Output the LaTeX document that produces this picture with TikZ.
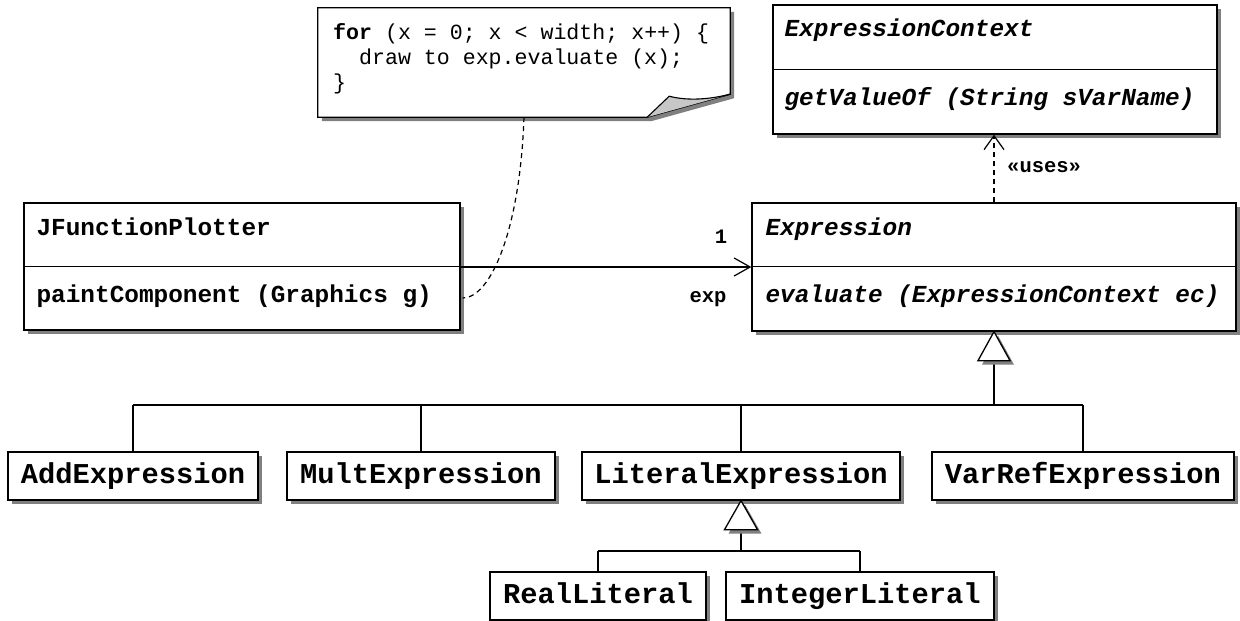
\documentclass[tikz,border=0pt]{standalone}
\usepackage{fontspec}
\setmonofont{Liberation Mono}
\usetikzlibrary{shadows,arrows.meta,calc}
\newcommand\clsfont{\ttfamily\bfseries\fontsize{24.4}{29}\selectfont}
\newcommand\subfont{\ttfamily\bfseries\fontsize{28.75}{34}\selectfont}
\newcommand\notefont{\ttfamily\fontsize{21.6}{25}\selectfont}
\newcommand\lblfont{\ttfamily\bfseries\fontsize{20.5}{24}\selectfont}
\tikzset{
  shad/.style={drop shadow={shadow xshift=4pt, shadow yshift=-4pt, fill=black!50, opacity=1}},
  box/.style={draw, line width=1.3pt, fill=white, inner sep=0pt, shad},
  clsbox/.style={box},
  subbox/.style={box, minimum height=48pt, text height=20pt, text depth=5pt, font=\subfont},
  cls/.style={anchor=base west, inner sep=0pt, font=\clsfont},
  ln/.style={line width=1.3pt},
  trunk/.style={line width=1.9pt},
  gentri/.style={line width=1.3pt, fill=white, shad},
  assoc/.style={line width=1.2pt, -{Straight Barb[length=16pt,width=18pt,line width=1.2pt]}},
  usesarrow/.style={line width=1.2pt, dash pattern=on 5pt off 4pt, -{Straight Barb[length=14pt,width=20pt,line width=1.2pt]}},
  notelink/.style={line width=1.2pt, dash pattern=on 5pt off 4pt},
  lbl/.style={inner sep=0pt, font=\lblfont},
  notetxt/.style={anchor=base west, inner sep=0pt, font=\notefont}
}
\begin{document}
\begin{tikzpicture}[x=1pt,y=-1pt]
\useasboundingbox (0,0) rectangle (1240,621);

% ---------- note ----------
\node[inner sep=0pt, minimum width=412pt, minimum height=109pt] (note) at (524,62.5) {};
\draw[ln, fill=white, shad] (note.north west) -- (note.north east) -- ($(note.south east)+(0,-23)$)
  -- ($(note.south east)+(-83,0)$) -- (note.south west) -- cycle;
\fill[black!22] ($(note.south east)+(-83,0)$) -- ($(note.south east)+(-61,-21)$)
  .. controls ($(note.south east)+(-42,-16)$) and ($(note.south east)+(-20,-18)$) .. ($(note.south east)+(0,-23)$) -- cycle;
\draw[line width=1.1pt] ($(note.south east)+(-83,0)$) -- ($(note.south east)+(-61,-21)$)
  .. controls ($(note.south east)+(-42,-16)$) and ($(note.south east)+(-20,-18)$) .. ($(note.south east)+(0,-23)$);
\node[notetxt] (n1) at (333,39) {\textbf{for} (x = 0; x < width; x++) \{};
\node[notetxt] (n2) at (333,64) {\phantom{xx}draw to exp.evaluate (x);};
\node[notetxt] (n3) at (333,89) {\}};

% ---------- ExpressionContext ----------
\node[clsbox, minimum width=444pt, minimum height=129pt] (ctx) at (995,69.5) {};
\draw[ln] ($(ctx.north west)+(0,65)$) -- ($(ctx.north east)+(0,65)$);
\node[cls] (ctxT) at ($(ctx.north west)+(12,32)$) {\itshape ExpressionContext};
\node[cls] (ctxM) at ($(ctx.north west)+(12,101)$) {\itshape getValueOf (String sVarName)};

% ---------- JFunctionPlotter ----------
\node[clsbox, minimum width=436pt, minimum height=127pt] (jfp) at (242,266.5) {};
\draw[ln] ($(jfp.north west)+(0,64)$) -- ($(jfp.north east)+(0,64)$);
\node[cls] (jfpT) at ($(jfp.north west)+(13,33)$) {JFunctionPlotter};
\node[cls] (jfpM) at ($(jfp.north west)+(13,100)$) {paintComponent (Graphics g)};

% ---------- Expression ----------
\node[clsbox, minimum width=484pt, minimum height=128pt] (expr) at (994,267) {};
\draw[ln] ($(expr.north west)+(0,64)$) -- ($(expr.north east)+(0,64)$);
\node[cls] (exprT) at ($(expr.north west)+(14,33)$) {\itshape Expression};
\node[cls] (exprM) at ($(expr.north west)+(14,100)$) {\itshape evaluate (ExpressionContext ec)};

% ---------- subclasses ----------
\node[subbox, minimum width=250pt] (add)  at (133,476)  {AddExpression};
\node[subbox, minimum width=268pt] (mult) at (421,476)  {MultExpression};
\node[subbox, minimum width=318pt] (lit)  at (741,476)  {LiteralExpression};
\node[subbox, minimum width=302pt] (var)  at (1083,476) {VarRefExpression};
\node[subbox, minimum width=216pt] (real) at (598,596)  {RealLiteral};
\node[subbox, minimum width=268pt] (int)  at (860,596)  {IntegerLiteral};

% ---------- association ----------
\draw[assoc] (jfp.east |- expr.west) -- (expr.west);
\node[lbl] (one) at (721,237) {1};
\node[lbl] (expl) at (708,299) {exp};

% ---------- uses ----------
\draw[usesarrow] (expr.north) -- (expr.north |- ctx.south);
\node[lbl, anchor=west] (uses) at (1007,167) {«uses»};

% ---------- note link ----------
\coordinate (nl) at ($(jfp.east)+(2,31.5)$);
\draw[notelink] (note.south) .. controls ($(note.south)+(-4,113)$) and ($(nl)+(28,0)$) .. (nl);

% ---------- generalization: Expression ----------
\coordinate (gbar) at (0,405);
\draw[trunk] ($(expr.south)+(0,29)$) -- (expr.south |- gbar);
\draw[ln] (add.north |- gbar) -- (var.north |- gbar);
\draw[trunk] (lit.north |- gbar) -- (expr.south |- gbar);
\foreach \n in {add,mult,lit,var} \draw[ln] (\n.north) -- (\n.north |- gbar);
\draw[gentri] (expr.south) -- ++(-16,29) -- ++(32,0) -- cycle;

% ---------- generalization: LiteralExpression ----------
\coordinate (lbar) at (0,551);
\draw[trunk] ($(lit.south)+(0,29)$) -- (lit.south |- lbar);
\draw[ln] (real.north |- lbar) -- (int.north |- lbar);
\foreach \n in {real,int} \draw[ln] (\n.north) -- (\n.north |- lbar);
\draw[gentri] (lit.south) -- ++(-16.5,29) -- ++(33,0) -- cycle;
\end{tikzpicture}
\end{document}
